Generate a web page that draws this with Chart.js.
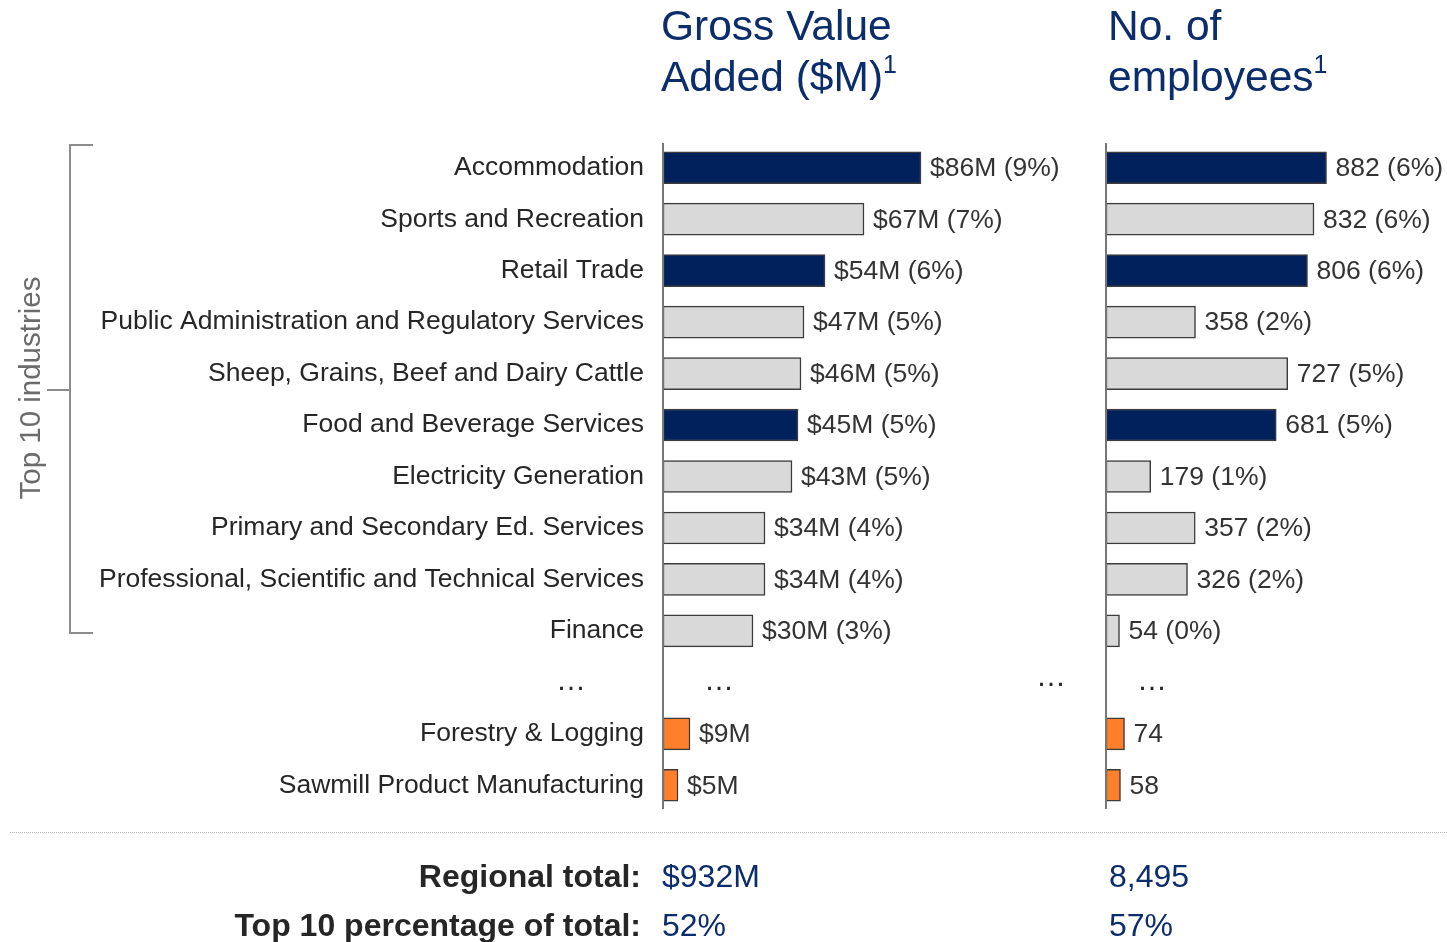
<!DOCTYPE html>
<html><head><meta charset="utf-8">
<script src="https://cdn.jsdelivr.net/npm/chart.js@4/dist/chart.umd.min.js"></script>
<style>
html,body{margin:0;padding:0;background:#fff;}
body{width:1447px;height:942px;position:relative;overflow:hidden;font-family:"Liberation Sans",Arial,sans-serif;}
#c1{position:absolute;left:0;top:0;}
#c2{position:absolute;left:1100px;top:0;}
.title{position:absolute;top:0;font-size:42.5px;line-height:51px;color:#0B2D6B;white-space:nowrap;}
.title sup{font-size:25px;vertical-align:18px;line-height:0;}
.br{position:absolute;background:#8c8c8c;}
#side{position:absolute;left:30px;top:388px;transform:translate(-50%,-50%) rotate(-90deg);font-size:29.5px;color:#6b6b6b;white-space:nowrap;}
#dots{position:absolute;left:10px;top:832px;width:1437px;border-top:1.5px dotted #b0b0b0;}
.flab{position:absolute;right:806px;font-size:32px;font-weight:bold;color:#262626;white-space:nowrap;transform:translateY(-50%);}
.fval{position:absolute;font-size:32px;color:#0B2D6B;white-space:nowrap;transform:translateY(-50%);}
</style>
</head><body>
<canvas id="c1" width="1100" height="942"></canvas>
<canvas id="c2" width="347" height="942"></canvas>

<div class="title" style="left:661px;">Gross Value<br>Added ($M)<sup>1</sup></div>
<div class="title" style="left:1108px;">No. of<br>employees<sup>1</sup></div>

<div class="br" style="left:69px;top:144px;width:2px;height:490px;"></div>
<div class="br" style="left:69px;top:144px;width:24px;height:2px;"></div>
<div class="br" style="left:69px;top:632px;width:24px;height:2px;"></div>
<div class="br" style="left:47px;top:389px;width:23px;height:2px;"></div>
<div id="side">Top 10 industries</div>

<div id="dots"></div>
<div class="flab" style="top:876px;">Regional total:</div>
<div class="flab" style="top:925px;">Top 10 percentage of total:</div>
<div class="fval" id="t1" style="left:662px;top:876px;"></div>
<div class="fval" id="t2" style="left:1109px;top:876px;"></div>
<div class="fval" id="t3" style="left:662px;top:925px;"></div>
<div class="fval" id="t4" style="left:1109px;top:925px;"></div>

<script>
// ---- data ----
const categories = [
  'Accommodation',
  'Sports and Recreation',
  'Retail Trade',
  'Public Administration and Regulatory Services',
  'Sheep, Grains, Beef and Dairy Cattle',
  'Food and Beverage Services',
  'Electricity Generation',
  'Primary and Secondary Ed. Services',
  'Professional, Scientific and Technical Services',
  'Finance',
  '',
  'Forestry & Logging',
  'Sawmill Product Manufacturing'
];
const rowGroup = ['focus','other','focus','other','other','focus','other','other','other','other','gap','forestry','forestry'];
const gvaValues = [86, 67, 54, 47, 46, 45, 43, 34, 34, 30, null, 9, 5];
const gvaLabels = ['$86M (9%)','$67M (7%)','$54M (6%)','$47M (5%)','$46M (5%)','$45M (5%)','$43M (5%)','$34M (4%)','$34M (4%)','$30M (3%)','','$9M','$5M'];
const empValues = [882, 832, 806, 358, 727, 681, 179, 357, 326, 54, null, 74, 58];
const empLabels = ['882 (6%)','832 (6%)','806 (6%)','358 (2%)','727 (5%)','681 (5%)','179 (1%)','357 (2%)','326 (2%)','54 (0%)','','74','58'];
const totals = { gva: '$932M', emp: '8,495' };
const top10Share = { gva: '52%', emp: '57%' };

document.getElementById('t1').textContent = totals.gva;
document.getElementById('t2').textContent = totals.emp;
document.getElementById('t3').textContent = top10Share.gva;
document.getElementById('t4').textContent = top10Share.emp;

const FONT = "'Liberation Sans', Arial, sans-serif";
Chart.defaults.font.family = FONT;
const groupColor = { focus:'#00215C', other:'#D9D9D9', forestry:'#FF7F2A', gap:'rgba(0,0,0,0)' };
const barColors = rowGroup.map(g => groupColor[g]);
const gapIndex = rowGroup.indexOf('gap');

const overlay = {
  id: 'overlay',
  afterDatasetsDraw(chart, args, opts) {
    const { ctx, chartArea, scales: { x, y } } = chart;
    ctx.save();
    const x0 = x.getPixelForValue(0);
    ctx.strokeStyle = '#767676';
    ctx.lineWidth = 2;
    ctx.beginPath();
    ctx.moveTo(x0, chartArea.top + 1);
    ctx.lineTo(x0, chartArea.bottom - 2);
    ctx.stroke();
    const meta = chart.getDatasetMeta(0);
    ctx.font = '26.5px ' + FONT;
    ctx.fillStyle = '#333333';
    ctx.textAlign = 'left';
    ctx.textBaseline = 'middle';
    meta.data.forEach((bar, i) => {
      const lab = opts.labels[i];
      if (!lab) return;
      ctx.fillText(lab, bar.x + 9, bar.y + 1);
    });
    // ellipsis marks for the omitted industries
    ctx.font = '30px ' + FONT;
    ctx.fillStyle = '#262626';
    ctx.textAlign = 'center';
    ctx.textBaseline = 'alphabetic';
    const gy = y.getPixelForValue(gapIndex);
    (opts.ellipses || []).forEach(e => {
      ctx.fillText('\u2026', e.fromZero ? x0 + e.dx : e.dx, gy + 8 + (e.dy || 0));
    });
    ctx.restore();
  }
};

const baseDataset = (data) => ({
  data,
  backgroundColor: barColors,
  borderColor: '#3c3c3c',
  borderWidth: 1.5,
  borderSkipped: false,
  barThickness: 32
});

new Chart(document.getElementById('c1'), {
  type: 'bar',
  data: { labels: categories, datasets: [baseDataset(gvaValues)] },
  options: {
    indexAxis: 'y',
    responsive: false,
    animation: false,
    events: [],
    layout: { padding: { top: 142, bottom: 131, left: 0, right: 2 } },
    plugins: {
      legend: { display: false }, tooltip: { enabled: false },
      overlay: {
        labels: gvaLabels,
        ellipses: [ { dx: 571 }, { dx: 56, fromZero: true }, { dx: 1051, dy: -4 } ]
      }
    },
    scales: {
      x: { display: false, min: 0, max: 145 },
      y: {
        afterFit: (s) => { s.width = 663; },
        grid: { display: false, drawTicks: false },
        border: { display: false },
        ticks: { autoSkip: false, padding: 19, color: '#262626', font: { size: 26.5 } }
      }
    }
  },
  plugins: [overlay]
});

new Chart(document.getElementById('c2'), {
  type: 'bar',
  data: { labels: categories, datasets: [baseDataset(empValues)] },
  options: {
    indexAxis: 'y',
    responsive: false,
    animation: false,
    events: [],
    layout: { padding: { top: 142, bottom: 131, left: 6, right: 16 } },
    plugins: {
      legend: { display: false }, tooltip: { enabled: false },
      overlay: { labels: empLabels, ellipses: [ { dx: 46, fromZero: true } ] }
    },
    scales: {
      x: { display: false, min: 0, max: 1300 },
      y: { display: false }
    }
  },
  plugins: [overlay]
});
</script>
</body></html>
